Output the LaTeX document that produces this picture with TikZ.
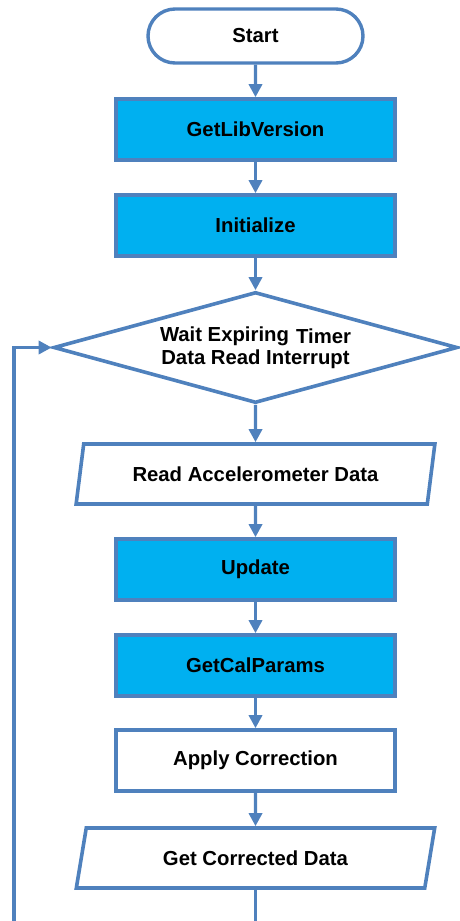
\documentclass[tikz,border=0pt]{standalone}
\usepackage{fontspec}
\setmainfont{Liberation Sans}
\usetikzlibrary{shapes.geometric,shapes.misc,arrows.meta}
\definecolor{flowline}{HTML}{4F81BD}
\definecolor{apifill}{HTML}{00B0F0}
\begin{document}
\begin{tikzpicture}
    [
        x=1pt, y=-1pt,
        every node/.style={font=\fontsize{20.3}{23}\selectfont\bfseries, text=black},
        terminal/.style={rounded rectangle, draw=flowline, line width=3.4pt, fill=white, minimum width=215pt, minimum height=54pt, inner sep=0pt},
        process/.style={rectangle, draw=flowline, line width=3.6pt, fill=white, minimum width=279pt, minimum height=61pt, inner sep=0pt},
        apicall/.style={process, fill=apifill},
        decision/.style={diamond, draw=flowline, line width=3.6pt, fill=white, aspect=3.6, minimum width=404pt, minimum height=111pt, inner sep=0pt, align=center},
        io/.style={trapezium, trapezium left angle=70, trapezium right angle=110, trapezium stretches=true, draw=flowline, line width=3.6pt, fill=white, minimum width=359pt, minimum height=60pt, inner sep=0pt},
        edge/.style={draw=flowline, line width=3.4pt, -{Triangle[width=13pt,length=13pt]}},
    ]

    \path [use as bounding box, clip] (0,0) rectangle (460,921);

    % main flow
    \node (start)   at (255.5,36)    [terminal] {Start};
    \node (libver)  at (255.5,129.5) [apicall]  {GetLibVersion};
    \node (init)    at (255.5,225.5) [apicall]  {Initialize};
    \node (wait)    at (255.5,347.5) [decision] {Wait Expiring\hspace{0.35em}\raisebox{-2pt}{Timer}\\Data Read Interrupt};
    \node (read)    at (255.5,474)   [io]       {Read Accelerometer Data};
    \node (update)  at (255.5,569.5) [apicall]  {Update};
    \node (calpar)  at (255.5,665.5) [apicall]  {GetCalParams};
    \node (correct) at (255.5,760.5) [process]  {Apply Correction};
    \node (getdata) at (255.5,858)   [io]       {Get Corrected Data};

    \coordinate (loop) at (14,950);

    \draw [edge] (start) -- (libver);
    \draw [edge] (libver) -- (init);
    \draw [edge] (init) -- (wait);
    \draw [edge] (wait) -- (read);
    \draw [edge] (read) -- (update);
    \draw [edge] (update) -- (calpar);
    \draw [edge] (calpar) -- (correct);
    \draw [edge] (correct) -- (getdata);

    % back to the wait
    \draw [edge] (getdata.south) |- (loop) |- (wait.west);

\end{tikzpicture}
\end{document}
